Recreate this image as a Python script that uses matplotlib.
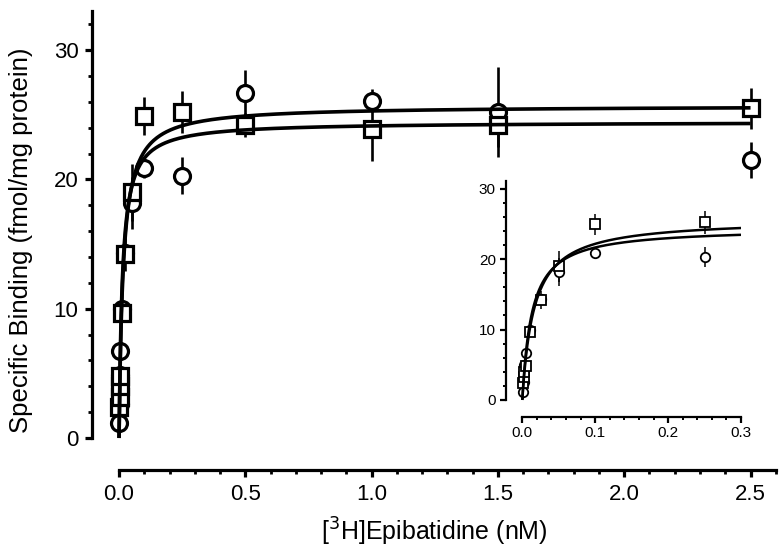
import numpy as np
import matplotlib
matplotlib.use("Agg")
import matplotlib.pyplot as plt
from matplotlib.ticker import FixedLocator, FormatStrFormatter

plt.rcParams['font.family'] = ['Liberation Sans', 'DejaVu Sans']

# ---- data ----
conc = [0.001, 0.002, 0.003, 0.005, 0.01, 0.025, 0.05, 0.1, 0.25, 0.5, 1.0, 1.5, 2.5]
circle_mean = [1.2, 2.6, 4.9, 6.7, 10.0, 14.3, 18.2, 20.9, 20.3, 26.7, 26.1, 25.2, 21.5]
circle_sem = [1.0, 0.4, 0.4, 0.5, 0.5, 0.6, 2.0, 0.8, 1.4, 1.8, 0.9, 3.5, 1.4]
square_mean = [2.4, 3.2, 4.0, 4.8, 9.7, 14.2, 19.0, 24.9, 25.2, 24.2, 23.9, 24.2, 25.5]
square_sem = [0.4, 0.4, 0.4, 0.5, 0.6, 1.3, 2.2, 1.5, 1.6, 0.9, 2.5, 1.7, 1.6]

# one-site hyperbolic fits: (Bmax, Kd)
fit_upper = (25.7, 0.016)
fit_lower = (24.45, 0.013)

main_xticks = [0.0, 0.5, 1.0, 1.5, 2.0, 2.5]
main_yticks = [0, 10, 20, 30]
inset_xticks = [0.0, 0.1, 0.2, 0.3]
inset_yticks = [0, 10, 20, 30]


def hyper(x, p):
    bmax, kd = p
    return bmax * x / (kd + x)


def draw(ax, xmax, ms, mew, elw, clw, xfit_max):
    x = np.asarray(conc)
    keep = x <= xmax
    for mean, sem, mk in ((circle_mean, circle_sem, 'o'), (square_mean, square_sem, 's')):
        m = np.asarray(mean)[keep]
        s = np.asarray(sem)[keep]
        ax.errorbar(x[keep], m, yerr=s, fmt='none', ecolor='black', elinewidth=elw,
                    capsize=0, zorder=2)
        ax.plot(x[keep], m, linestyle='none', marker=mk, markersize=ms,
                markerfacecolor='white', markeredgecolor='black', markeredgewidth=mew,
                zorder=3)
    xf = np.linspace(0, xfit_max, 600)
    for p in (fit_upper, fit_lower):
        ax.plot(xf, hyper(xf, p), color='black', linewidth=clw, zorder=4,
                solid_capstyle='butt')


fig = plt.figure(figsize=(7.8, 5.55), dpi=100)

# ---- main axes ----
ax = fig.add_axes([0.1183, 0.1532, 0.8763, 0.8264])
draw(ax, 10, 11.5, 2.3, 1.9, 2.6, 2.5)
ax.set_xlim(-0.106, 2.6)
ax.set_ylim(-2.47, 33)
for sp in ('top', 'right'):
    ax.spines[sp].set_visible(False)
ax.spines['left'].set_bounds(0, 33)
ax.spines['bottom'].set_bounds(0, 2.6)
ax.spines['left'].set_linewidth(2.3)
ax.spines['bottom'].set_linewidth(2.3)
ax.set_xticks(main_xticks)
ax.set_yticks(main_yticks)
ax.xaxis.set_minor_locator(FixedLocator(np.round(np.arange(0.1, 2.61, 0.1), 2)))
ax.yaxis.set_minor_locator(FixedLocator(np.arange(2, 33, 2)))
ax.xaxis.set_major_formatter(FormatStrFormatter('%.1f'))
ax.tick_params(which='major', length=5, width=2.3, labelsize=16, direction='out', pad=5)
ax.tick_params(which='minor', length=3, width=2.0, direction='out')
ax.set_xlabel('[$^{3}$H]Epibatidine (nM)', fontsize=18, labelpad=8)
ax.set_ylabel('Specific Binding (fmol/mg protein)', fontsize=18.5, labelpad=15)

# ---- inset ----
ins = fig.add_axes([0.6483, 0.2492, 0.3017, 0.4238])
ins.patch.set_alpha(0)
draw(ins, 0.3, 6.8, 1.3, 1.1, 1.8, 0.3)
ins.set_xlim(-0.0228, 0.3)
ins.set_ylim(-2.37, 31)
for sp in ('top', 'right'):
    ins.spines[sp].set_visible(False)
ins.spines['left'].set_bounds(0, 31)
ins.spines['bottom'].set_bounds(0, 0.3)
ins.spines['left'].set_linewidth(1.6)
ins.spines['bottom'].set_linewidth(1.6)
ins.set_xticks(inset_xticks)
ins.set_yticks(inset_yticks)
ins.xaxis.set_minor_locator(FixedLocator(np.round(np.arange(0.02, 0.301, 0.02), 3)))
ins.yaxis.set_minor_locator(FixedLocator(np.arange(2, 31, 2)))
ins.xaxis.set_major_formatter(FormatStrFormatter('%.1f'))
ins.tick_params(which='major', length=4, width=1.6, labelsize=11, direction='out', pad=3)
ins.tick_params(which='minor', length=2.5, width=1.4, direction='out')

fig.savefig('out.png', dpi=100)
